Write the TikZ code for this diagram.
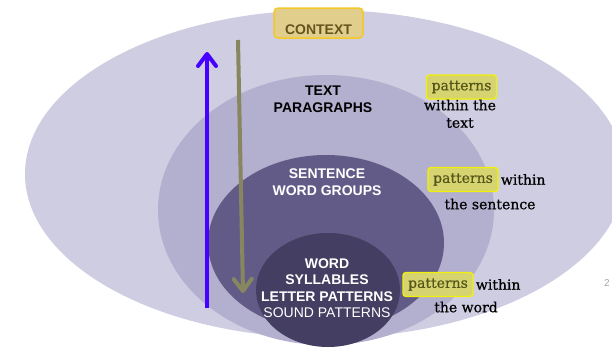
\documentclass[tikz,border=0pt]{standalone}
\usepackage{fontspec}
\setmainfont{DejaVu Serif}[FakeBold=0.6]
\newfontfamily\sansfont{Liberation Sans}
\usetikzlibrary{arrows.meta}
\definecolor{ringA}{RGB}{207,205,226}
\definecolor{ringB}{RGB}{179,175,206}
\definecolor{ringC}{RGB}{98,91,135}
\definecolor{ringD}{RGB}{68,62,98}
\definecolor{upblue}{RGB}{70,0,255}
\definecolor{downolive}{RGB}{135,135,95}
\definecolor{ctxfill}{RGB}{226,206,140}
\definecolor{ctxdraw}{RGB}{245,200,40}
\definecolor{ctxtext}{RGB}{100,85,30}
\definecolor{hlfill}{RGB}{214,212,112}
\definecolor{hldraw}{RGB}{240,240,10}
\definecolor{hltext}{RGB}{85,85,25}
\tikzset{
  caps/.style={font=\sansfont\bfseries\fontsize{14}{16.5}\selectfont, align=center, inner sep=0pt},
  capsdark/.style={caps, text=black},
  capslight/.style={caps, text=white},
  serifnote/.style={font=\fontsize{14}{19}\selectfont, inner sep=0pt, text=black},
  hlbox/.style={draw=hldraw, fill=hlfill, line width=1.4pt, rounded corners=3pt,
     minimum width=70pt, minimum height=24pt, inner sep=0pt,
     font=\fontsize{14}{19}\selectfont, text=hltext},
  uparrow/.style={draw=upblue, line width=4pt, -{Straight Barb[length=12pt,width=18pt,round]}},
  downarrow/.style={draw=downolive, line width=4pt, -{Straight Barb[length=12pt,width=18pt,round]}},
}
\begin{document}
\begin{tikzpicture}[x=1pt,y=-1pt]
\useasboundingbox (0,0) rectangle (612,348);
\begin{scope}
\clip (0,0) rectangle (612,348);
\fill[ringA] (325,174) ellipse [x radius=300,y radius=164];
\fill[ringB] (326,210) ellipse [x radius=168,y radius=135];
\fill[ringC] (326,243) ellipse [x radius=118,y radius=88];
\fill[ringD] (328,290) ellipse [x radius=72,y radius=57];
\end{scope}

% arrows
\coordinate (blueS) at (207,308);
\coordinate (blueE) at (207,52);
\draw[uparrow] (blueS) -- (blueE);
\coordinate (oliveS) at (238,40);
\coordinate (oliveE) at (243,293);
\draw[downarrow] (oliveS) -- (oliveE);

% context
\node[draw=ctxdraw, fill=ctxfill, line width=1.5pt, rounded corners=4pt,
      minimum width=89pt, minimum height=30pt] (ctxbox) at (318.5,23) {};
\node[caps, text=ctxtext] (ctx) at (318.5,29.5) {CONTEXT};

% level labels
\node[capsdark] (text) at (323,99) {TEXT\\PARAGRAPHS};
\node[capslight] (sent) at (327,182) {SENTENCE\\WORD GROUPS};
\node[capslight] (word) at (327,288) {WORD\\SYLLABLES\\LETTER PATTERNS\\{\mdseries SOUND PATTERNS}};

% notes
\node[hlbox] (p1) at (461.5,87) {patterns};
\node[serifnote] (w1) at (460,105) {within the};
\node[serifnote] (t1) at (460,123) {text};

\node[hlbox] (p2) at (463,179.5) {patterns};
\node[serifnote, anchor=west] (w2) at ([xshift=2pt]p2.east) {within};
\node[serifnote] (t2) at (490,204) {the sentence};

\node[hlbox] (p3) at (438,284.5) {patterns};
\node[serifnote, anchor=west] (w3) at ([xshift=2pt]p3.east) {within};
\node[serifnote] (t3) at (466,307) {the word};

\node[font=\sansfont\fontsize{10}{12}\selectfont, text=black!35, inner sep=0pt] (num) at (607,283) {2};
\end{tikzpicture}
\end{document}
